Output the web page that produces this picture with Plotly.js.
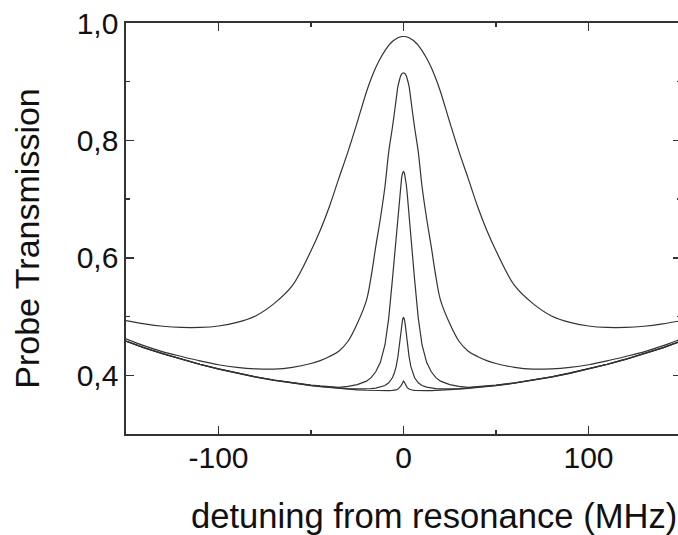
<!DOCTYPE html>
<html>
<head>
<meta charset="utf-8">
<script src="https://cdn.plot.ly/plotly-3.0.1.min.js"></script>
<style>
  html, body { margin: 0; padding: 0; overflow: hidden; background: #fff; }
  #chart { width: 682px; height: 535px; }
</style>
</head>
<body>
<div id="chart"></div>
<script>
// Detuning from resonance (MHz)
const detuning = [-150,-140,-130,-120,-110,-100,-90,-80,-70,-60,-50,-45,-40,-35,-30,-25,-20,-17.5,-15,-12.5,-10,-8,-6,-5,-4,-3,-2,-1.5,-1,-0.5,
  0,
  0.5,1,1.5,2,3,4,5,6,8,10,12.5,15,17.5,20,25,30,35,40,45,50,60,70,80,90,100,110,120,130,140,150];

// Probe transmission, five curves (widest to narrowest)
const trans1 = [0.493,0.4875,0.4835,0.4815,0.4815,0.484,0.490,0.501,0.522,0.553,0.612,0.647,0.688,0.735,0.781,0.831,0.883,0.905,0.924,0.940,0.953,0.962,0.9685,0.971,0.973,0.975,0.976,0.9765,0.977,0.977,
  0.977,
  0.977,0.977,0.9765,0.976,0.975,0.973,0.971,0.9685,0.962,0.953,0.940,0.924,0.905,0.883,0.831,0.781,0.735,0.688,0.647,0.612,0.553,0.522,0.501,0.490,0.484,0.4815,0.4815,0.4835,0.4875,0.493];

const trans2 = [0.462,0.450,0.440,0.432,0.4245,0.418,0.4135,0.411,0.4105,0.4135,0.420,0.425,0.432,0.441,0.458,0.488,0.528,0.568,0.619,0.667,0.722,0.780,0.822,0.845,0.869,0.892,0.905,0.910,0.913,0.9145,
  0.915,
  0.9145,0.913,0.910,0.905,0.892,0.869,0.845,0.822,0.780,0.722,0.667,0.619,0.568,0.528,0.488,0.458,0.441,0.432,0.425,0.420,0.4135,0.4105,0.411,0.4135,0.418,0.4245,0.432,0.440,0.450,0.462];

const trans3 = [0.4582,0.4468,0.4368,0.4274,0.4188,0.411,0.404,0.3975,0.392,0.3872,0.3834,0.3818,0.3805,0.3795,0.381,0.384,0.390,0.396,0.406,0.422,0.452,0.497,0.563,0.597,0.628,0.670,0.7096,0.725,0.737,0.7444,
  0.747,
  0.7444,0.737,0.725,0.7096,0.670,0.628,0.597,0.563,0.497,0.452,0.422,0.406,0.396,0.390,0.384,0.381,0.3795,0.3805,0.3818,0.3834,0.3872,0.392,0.3975,0.404,0.411,0.4188,0.4274,0.4368,0.4468,0.4582];

const trans4 = [0.4582,0.4467,0.4366,0.4272,0.4186,0.4108,0.4037,0.3973,0.3917,0.3869,0.3829,0.3811,0.3796,0.3784,0.3774,0.3769,0.3769,0.3773,0.3782,0.3798,0.3826,0.3872,0.3957,0.4033,0.4146,0.432,0.4565,0.471,0.485,0.495,
  0.499,
  0.495,0.485,0.471,0.4565,0.432,0.4146,0.4033,0.3957,0.3872,0.3826,0.3798,0.3782,0.3773,0.3769,0.3769,0.3774,0.3784,0.3796,0.3811,0.3829,0.3869,0.3917,0.3973,0.4037,0.4108,0.4186,0.4272,0.4366,0.4467,0.4582];

const trans5 = [0.458,0.4465,0.4364,0.427,0.4184,0.4105,0.4034,0.397,0.3914,0.3865,0.3824,0.3806,0.379,0.3776,0.3764,0.3753,0.3745,0.3742,0.374,0.3738,0.3736,0.3738,0.3742,0.3745,0.375,0.3765,0.379,0.3815,0.384,0.388,
  0.390,
  0.388,0.384,0.3815,0.379,0.3765,0.375,0.3745,0.3742,0.3738,0.3736,0.3738,0.374,0.3742,0.3745,0.3753,0.3764,0.3776,0.379,0.3806,0.3824,0.3865,0.3914,0.397,0.4034,0.4105,0.4184,0.427,0.4364,0.4465,0.458];

// Tick labels
const xTickVals = [-100, 0, 100];
const xTickText = ['-100', '0', '100'];
const xMinorVals = [-150, -50, 50, 150];
const yTickVals = [0.4, 0.6, 0.8, 1.0];
const yTickText = ['0,4', '0,6', '0,8', '1,0'];
const yMinorVals = [0.3, 0.5, 0.7, 0.9];

const xTitle = 'detuning from resonance (MHz)';
const yTitle = 'Probe Transmission';

const lineColor = '#333333';
const series = [trans1, trans2, trans3, trans4, trans5];
const traces = series.map((ys, i) => ({
  x: detuning,
  y: ys,
  type: 'scatter',
  mode: 'lines',
  line: i < 2 ? { color: lineColor, width: 1.2, shape: 'spline', smoothing: 1 }
              : { color: lineColor, width: 1.2 },
  hoverinfo: 'x+y'
}));

const fontFam = 'Liberation Sans, Arial, sans-serif';
const axisCommon = {
  showgrid: false,
  zeroline: false,
  showline: true,
  linecolor: lineColor,
  linewidth: 1.6,
  mirror: 'ticks',
  ticks: 'inside',
  ticklen: 8,
  tickwidth: 1.4,
  tickcolor: lineColor,
  tickmode: 'array',
  tickfont: { family: fontFam, size: 30, color: '#111' }
};

const layout = {
  width: 682,
  height: 535,
  margin: { l: 126, r: 1, t: 23, b: 101 },
  paper_bgcolor: '#ffffff',
  plot_bgcolor: '#ffffff',
  showlegend: false,
  xaxis: Object.assign({}, axisCommon, {
    range: [-150, 150],
    tickvals: xTickVals,
    ticktext: xTickText,
    ticklabelstandoff: -4,
    minor: { tickmode: 'array', tickvals: xMinorVals, ticks: 'inside', ticklen: 4, tickwidth: 1.4, tickcolor: lineColor, showgrid: false }
  }),
  yaxis: Object.assign({}, axisCommon, {
    range: [0.3, 1.0],
    tickvals: yTickVals,
    ticktext: yTickText,
    minor: { tickmode: 'array', tickvals: yMinorVals, ticks: 'inside', ticklen: 4, tickwidth: 1.4, tickcolor: lineColor, showgrid: false }
  }),
  annotations: [
    {
      text: xTitle, xref: 'paper', yref: 'paper',
      x: 0.555, y: -0.1995, xanchor: 'center', yanchor: 'middle',
      showarrow: false,
      font: { family: fontFam, size: 34.6, color: '#111' }
    },
    {
      text: yTitle, xref: 'paper', yref: 'paper',
      x: -0.178, y: 0.4757, xanchor: 'center', yanchor: 'middle',
      textangle: -90, showarrow: false,
      font: { family: fontFam, size: 34, color: '#111' }
    }
  ]
};

Plotly.newPlot('chart', traces, layout, { displayModeBar: false, staticPlot: true });
</script>
</body>
</html>
